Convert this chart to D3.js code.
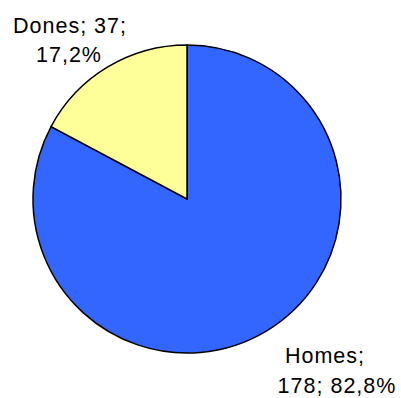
<!DOCTYPE html>
<html><head><meta charset="utf-8">
<script src="https://cdn.jsdelivr.net/npm/d3@7"></script>
<style>html,body{margin:0;padding:0;background:#fff;}svg{display:block;}</style>
</head><body>
<script>
const categories = ["Homes", "Dones"];
const values = [178, 37];
const percentLabels = ["82,8%", "17,2%"];
const colors = ["#3366FF", "#FFFF99"];
const labelLines = [["Homes;", "178; 82,8%"], ["Dones; 37;", "17,2%"]];

const W = 401, H = 398;
const cx = 187, cy = 199, r = 154;
const svg = d3.select("body").append("svg").attr("width", W).attr("height", H);

const pie = d3.pie().sort(null).startAngle(0).endAngle(2 * Math.PI);
const arcs = pie(values);
const arc = d3.arc().innerRadius(0).outerRadius(r);

const g = svg.append("g").attr("transform", `translate(${cx},${cy})`);
g.selectAll("path").data(arcs).join("path")
  .attr("d", arc)
  .attr("fill", (d, i) => colors[i])
  .attr("stroke", "#000")
  .attr("stroke-width", 1.5)
  .attr("stroke-linejoin", "miter");

const labelPos = [
  [{x: 325, y: 363}, {x: 337, y: 393}],
  [{x: 70, y: 33}, {x: 69, y: 61.5}]
];
labelLines.forEach((lines, i) => {
  lines.forEach((t, j) => {
    svg.append("text")
      .attr("x", labelPos[i][j].x)
      .attr("y", labelPos[i][j].y)
      .attr("text-anchor", "middle")
      .attr("font-family", "'Liberation Sans', Arial, Helvetica, sans-serif")
      .attr("font-size", 21.5)
      .attr("letter-spacing", "1px")
      .attr("fill", "#000")
      .text(t);
  });
});
</script>
</body></html>
